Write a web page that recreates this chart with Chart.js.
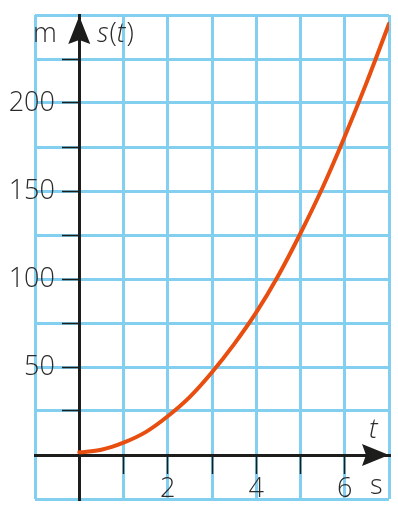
<!DOCTYPE html>
<html>
<head>
<meta charset="utf-8">
<script src="https://cdn.jsdelivr.net/npm/chart.js@4"></script>
<style>
  body { margin: 0; background: #fff; }
  #wrap { width: 398px; height: 511px; }
</style>
</head>
<body>
<div id="wrap"><canvas id="chart" width="398" height="511"></canvas></div>
<script>
// values
const tValues = [0, 0.5, 1, 1.5, 2, 2.5, 3, 3.5, 4, 4.5, 5, 5.5, 6, 6.5, 7];
const sValues = [1.5, 3, 7, 13, 22, 33, 47, 63, 81, 102, 126, 152, 181, 212, 245];
const xLabels = [2, 4, 6];
const yLabels = [50, 100, 150, 200];

const gridColor = '#82cff0';
const axisColor = '#1d1d1b';
const textColor = '#2b2b2b';
const curveColor = '#e84e0f';
const fontFamily = '"Open Sans", sans-serif';

const points = tValues.map((t, i) => ({x: t, y: sValues[i]}));

// no extra room for edge labels
const noPad = (scale) => {
    scale.paddingTop = 0;
    scale.paddingBottom = 0;
    scale.paddingLeft = 0;
    scale.paddingRight = 0;
};

// arrows + unit labels
const axisDecor = {
    id: 'axisDecor',
    afterDraw(chart) {
        const ctx = chart.ctx;
        const xs = chart.scales.x, ys = chart.scales.y;
        const x0 = xs.getPixelForValue(0);
        const y0 = ys.getPixelForValue(0);
        const top = chart.chartArea.top + 1;
        const right = chart.chartArea.right;
        ctx.save();
        ctx.fillStyle = axisColor;
        // y arrow
        ctx.beginPath();
        ctx.moveTo(x0, top);
        ctx.lineTo(x0 + 11, top + 28);
        ctx.lineTo(x0, top + 24);
        ctx.lineTo(x0 - 11, top + 28);
        ctx.closePath();
        ctx.fill();
        // x arrow
        ctx.beginPath();
        ctx.moveTo(right, y0);
        ctx.lineTo(right - 27, y0 - 11);
        ctx.lineTo(right - 23, y0);
        ctx.lineTo(right - 27, y0 + 11);
        ctx.closePath();
        ctx.fill();

        ctx.fillStyle = textColor;
        ctx.textBaseline = 'alphabetic';
        ctx.textAlign = 'left';
        const up = '300 27px ' + fontFamily;
        const it = 'italic 300 27px ' + fontFamily;
        ctx.font = up;
        ctx.fillText('m', 33, 42);
        // s(t)
        let px = 97;
        ctx.font = it;
        ctx.fillText('s', px, 42); px += ctx.measureText('s').width + 1;
        ctx.font = up;
        ctx.fillText('(', px, 42); px += ctx.measureText('(').width;
        ctx.font = it;
        ctx.fillText('t', px, 42); px += ctx.measureText('t').width + 1;
        ctx.font = up;
        ctx.fillText(')', px, 42);
        // t near x arrow
        ctx.font = it;
        ctx.fillText('t', 369, 438);
        ctx.font = up;
        ctx.fillText('s', 370, 494);
        ctx.restore();
    }
};

const config = {
    type: 'line',
    data: {
        datasets: [{
            label: 's(t)',
            data: points,
            borderColor: curveColor,
            borderWidth: 4,
            borderCapStyle: 'round',
            pointRadius: 0,
            cubicInterpolationMode: 'monotone',
            fill: false
        }]
    },
    options: {
        responsive: false,
        animation: false,
        layout: {
            padding: {left: 35, right: 9, top: 15, bottom: 12}
        },
        plugins: {
            legend: {display: false},
            tooltip: {enabled: false}
        },
        scales: {
            x: {
                type: 'linear',
                min: -1,
                max: 7,
                position: {y: 0},
                afterFit: noPad,
                ticks: {
                    stepSize: 1,
                    padding: 1,
                    color: textColor,
                    font: {family: fontFamily, size: 27, weight: 300},
                    maxRotation: 0,
                    callback: (v) => xLabels.includes(v) ? String(v) : ''
                },
                grid: {
                    color: gridColor,
                    lineWidth: 3,
                    tickLength: 17,
                    tickWidth: 1.5,
                    tickColor: (c) => (c.tick && c.tick.value >= 1 && c.tick.value <= 6) ? axisColor : 'rgba(0,0,0,0)'
                },
                border: {color: axisColor, width: 3}
            },
            // grid, axis line and tick marks
            y: {
                type: 'linear',
                min: -25,
                max: 250,
                position: {x: 0},
                afterFit: noPad,
                ticks: {
                    stepSize: 25,
                    display: false
                },
                grid: {
                    color: gridColor,
                    lineWidth: 3,
                    tickLength: 16,
                    tickWidth: 1.5,
                    tickColor: (c) => (c.tick && c.tick.value >= 25 && c.tick.value <= 225) ? axisColor : 'rgba(0,0,0,0)'
                },
                border: {color: axisColor, width: 3}
            },
            // tick labels, set a bit left of the axis
            yText: {
                type: 'linear',
                axis: 'y',
                min: -25,
                max: 250,
                position: {x: -0.55},
                afterFit: noPad,
                ticks: {
                    stepSize: 25,
                    color: textColor,
                    font: {family: fontFamily, size: 27, weight: 300},
                    callback: (v) => yLabels.includes(v) ? String(v) : ''
                },
                grid: {display: false, drawTicks: false},
                border: {display: false}
            }
        }
    },
    plugins: [axisDecor]
};

new Chart(document.getElementById('chart'), config);
</script>
</body>
</html>
